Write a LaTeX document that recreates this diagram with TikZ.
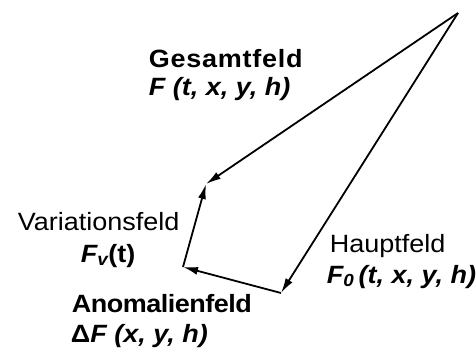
\documentclass[tikz,border=0pt]{standalone}
\usepackage{fontspec}
\setmainfont[FakeStretch=1.08]{Liberation Sans}
\usetikzlibrary{arrows.meta}
\tikzset{
  every picture/.style={line width=1.8pt, x=1pt, y=-1pt},
  vec/.style={-{Latex[length=15pt, width=8pt]}, draw=black},
  lbl/.style={font=\fontsize{25}{29}\selectfont, inner sep=0pt, anchor=base west},
  lblbf/.style={lbl, font=\fontsize{25}{29}\selectfont\bfseries},
  sym/.style={lbl, font=\fontsize{25}{29}\selectfont\bfseries\itshape},
}

\begin{document}
\begin{tikzpicture}
  \useasboundingbox (0,0) rectangle (476,358);
  % corner points of the vector polygon
  \coordinate (orig) at (458,13);
  \coordinate (tot) at (206,184);
  \coordinate (main) at (281,293);
  \coordinate (anom) at (183,267);
  % vectors
  \draw[vec] (orig) -- (tot);
  \draw[vec] (orig) -- (main);
  \draw[vec] (main) -- (anom);
  \draw[vec] (anom) -- (tot);
  % labels
  \node[lblbf] (gesamt) at (148,68) {\addfontfeature{LetterSpace=3}Gesamtfeld};
  \node[sym] (gesamtF) at (148,96) {F (t, x, y, h)};
  \node[lbl] (var) at (17,230) {Variationsfeld};
  \node[sym] (varF) at (80,262) {F\textsubscript{v}\upshape(t)};
  \node[lbl] (haupt) at (329,252) {Hauptfeld};
  \node[sym] (hauptF) at (326,283) {F\textsubscript{0}\,(t, x, y, h)};
  \node[lblbf] (anomal) at (71,312) {\addfontfeature{LetterSpace=-2}Anomalienfeld};
  \node[sym] (anomalF) at (70,342) {\upshape Δ\itshape F (x, y, h)};
\end{tikzpicture}
\end{document}
